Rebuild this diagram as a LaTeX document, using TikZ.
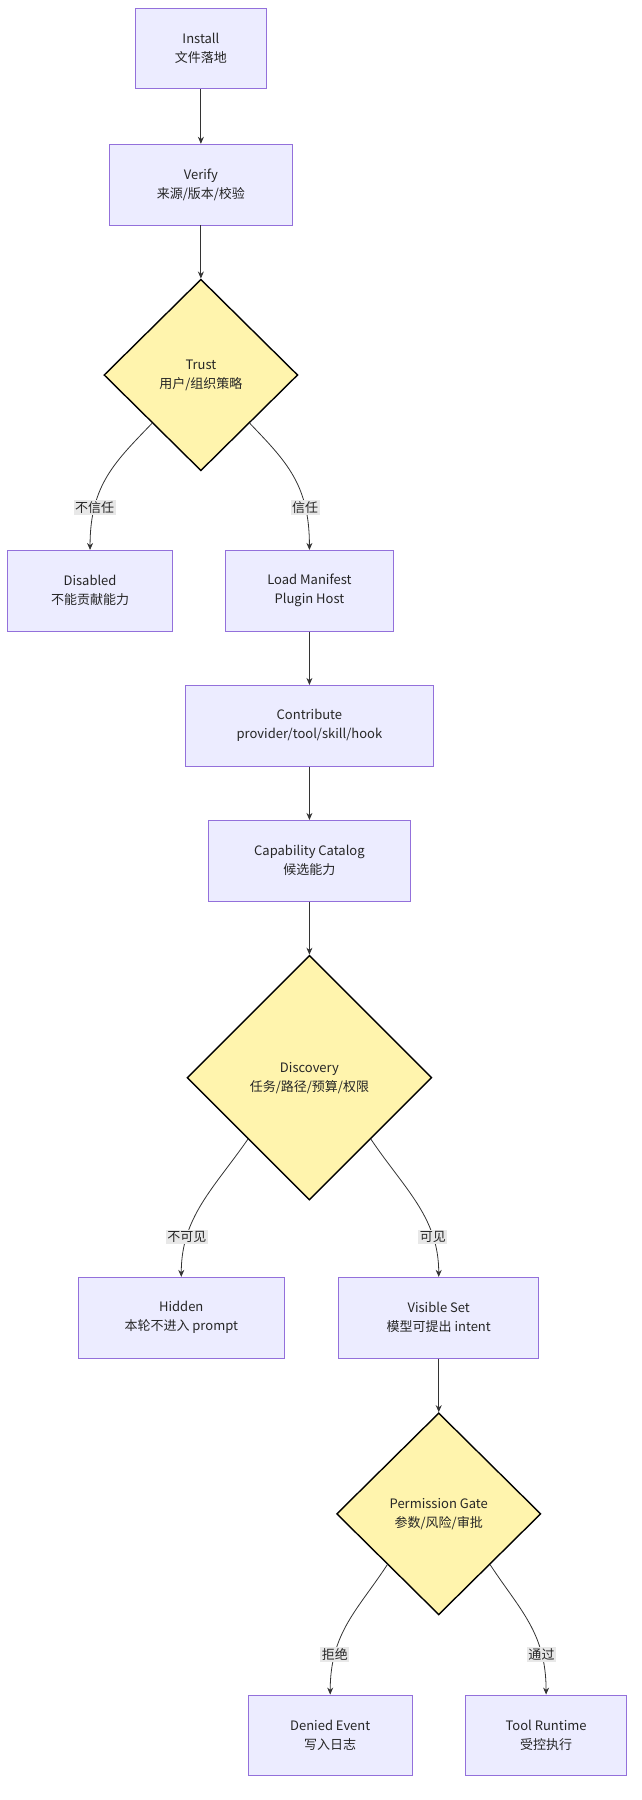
\documentclass[tikz,border=0pt]{standalone}
\usepackage{fontspec}
\setmainfont{Noto Sans CJK SC}
\usetikzlibrary{shapes.geometric,arrows.meta}
\definecolor{boxf}{HTML}{ECECFF}
\definecolor{boxd}{HTML}{9370DB}
\definecolor{dia}{HTML}{FFF4AD}
\definecolor{lab}{HTML}{E8E8E8}
\definecolor{ln}{HTML}{333333}
\begin{document}
\begin{tikzpicture}[x=1.1545pt,y=-1.1538pt,
  every node/.style={font=\fontsize{13}{19}\selectfont, text=black!85},
  box/.style={draw=boxd, fill=boxf, line width=0.9pt, align=center, inner sep=0pt, minimum height=70*1.154pt},
  dm/.style={diamond, draw=black, fill=dia, line width=1.4pt, align=center, inner sep=0pt},
  lbl/.style={fill=lab, inner sep=1.5pt},
  ar/.style={draw=ln, line width=0.8pt, -{Stealth[length=7pt,width=6pt]}}]
\useasboundingbox (0,0) rectangle (555.2,1560);
\node[box, minimum width=114*1.154pt] (install) at (174,42) {Install\\文件落地};
\node[box, minimum width=158*1.154pt] (verify) at (174,160) {Verify\\来源/版本/校验};
\node[dm, minimum width=168*1.154pt, minimum height=166*1.154pt] (trust) at (174,325) {Trust\\用户/组织策略};
\node[box, minimum width=143*1.154pt] (disabled) at (78,512) {Disabled\\不能贡献能力};
\node[box, minimum width=145*1.154pt] (load) at (268,512) {Load Manifest\\Plugin Host};
\node[box, minimum width=215*1.154pt] (contrib) at (268,629) {Contribute\\provider/tool/skill/hook};
\node[box, minimum width=175*1.154pt] (catalog) at (268,746) {Capability Catalog\\候选能力};
\node[dm, minimum width=212*1.154pt, minimum height=212*1.154pt] (disc) at (268,934) {Discovery\\任务/路径/预算/权限};
\node[box, minimum width=179*1.154pt] (hidden) at (157,1142) {Hidden\\本轮不进入 prompt};
\node[box, minimum width=173*1.154pt] (visible) at (380,1142) {Visible Set\\模型可提出 intent};
\node[dm, minimum width=177*1.154pt, minimum height=175*1.154pt] (perm) at (380,1312) {Permission Gate\\参数/风险/审批};
\node[box, minimum width=142*1.154pt] (denied) at (286,1504) {Denied Event\\写入日志};
\node[box, minimum width=140*1.154pt] (tool) at (473,1504) {Tool Runtime\\受控执行};

\draw[ar] (install) -- (verify);
\draw[ar] (verify) -- (trust);
\draw[ar] (load) -- (contrib);
\draw[ar] (contrib) -- (catalog);
\draw[ar] (catalog) -- (disc);
\draw[ar] (visible.south) -- (perm.north);

\draw[ar] (trust.south west) .. controls (100,400) and (78,420) .. (disabled.north) node[lbl, pos=0.75] {不信任};
\draw[ar] (trust.south east) .. controls (248,400) and (268,420) .. (load.north) node[lbl, pos=0.75] {信任};
\draw[ar] (disc.south west) .. controls (185,1030) and (157,1055) .. (hidden.north) node[lbl, pos=0.75] {不可见};
\draw[ar] (disc.south east) .. controls (350,1030) and (380,1055) .. (visible.north) node[lbl, pos=0.75] {可见};
\draw[ar] (perm.south west) .. controls (310,1395) and (286,1415) .. (denied.north) node[lbl, pos=0.75] {拒绝};
\draw[ar] (perm.south east) .. controls (450,1395) and (473,1415) .. (tool.north) node[lbl, pos=0.75] {通过};
\end{tikzpicture}
\end{document}
